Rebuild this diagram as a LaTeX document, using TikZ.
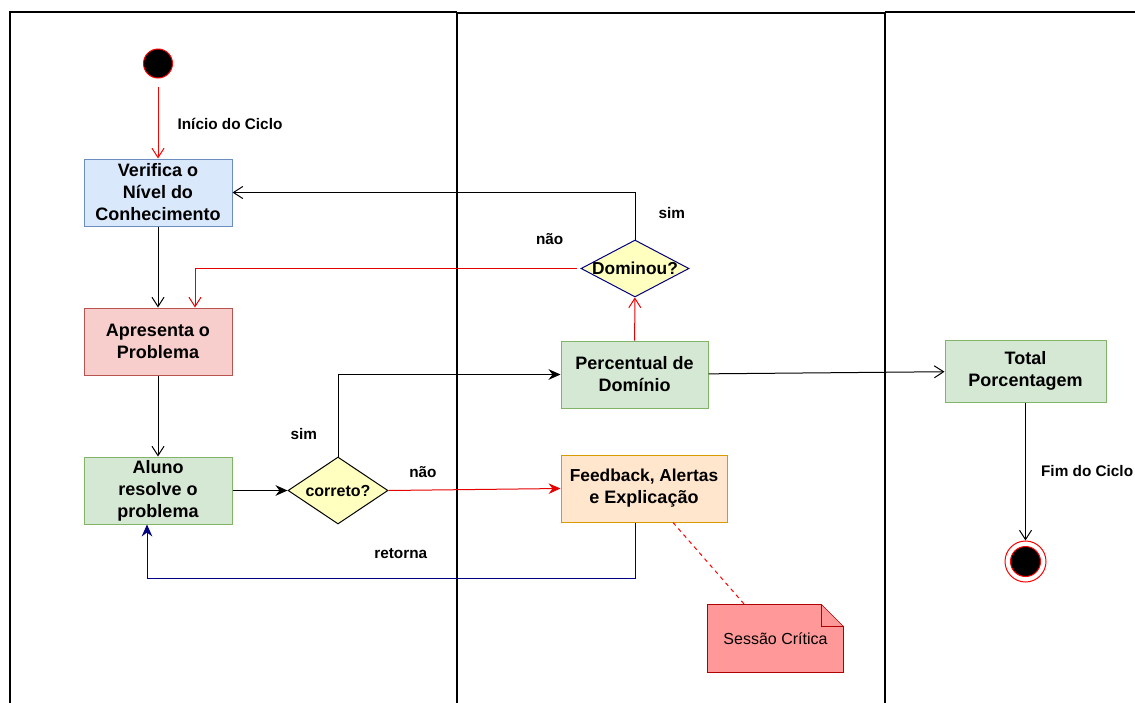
\documentclass[tikz,border=0pt]{standalone}
\usepackage{fontspec}
\setmainfont{Liberation Sans}
\usepackage{tikz}
\usetikzlibrary{arrows.meta,backgrounds,calc,positioning,shapes.geometric}
\definecolor{CheckBlue}{HTML}{DAE8FC}
\definecolor{CheckLine}{HTML}{6C8EBF}
\definecolor{ProblemRed}{HTML}{F8CECC}
\definecolor{ProblemLine}{HTML}{B85450}
\definecolor{SolveGreen}{HTML}{D5E8D4}
\definecolor{SolveLine}{HTML}{82B366}
\definecolor{HintOrange}{HTML}{FFE6CC}
\definecolor{HintLine}{HTML}{D79B00}
\definecolor{AskYellow}{HTML}{FFFFC0}
\definecolor{BackNavy}{HTML}{000080}
\definecolor{FlowRed}{HTML}{E60000}
\definecolor{NoteFill}{HTML}{FF9999}
\definecolor{NoteLine}{HTML}{B20000}

\begin{document}
\begin{tikzpicture}[
    x=0.75pt,y=-0.75pt,
    font=\fontsize{13.5}{16.5}\selectfont\bfseries,
    line width=0.75pt,
    >={Straight Barb[length=7pt,width=9pt]},
    flow/.style={->},
    hit/.style={-{Stealth[length=9pt,width=8pt,inset=3pt]}},
    act/.style={draw,minimum width=111pt,minimum height=50.25pt,
      align=center,inner sep=1pt},
    check/.style={act,draw=CheckLine,fill=CheckBlue},
    problem/.style={act,draw=ProblemLine,fill=ProblemRed},
    solve/.style={act,draw=SolveLine,fill=SolveGreen},
    hint/.style={act,draw=HintLine,fill=HintOrange},
    ask/.style={diamond,fill=AskYellow,inner sep=0pt},
    lane/.style={line width=1.5pt},
    tag/.style={font=\fontsize{11.5}{14}\selectfont\bfseries}
  ]
    \useasboundingbox (0,0) rectangle (1135,703);

    % Swim lanes.
    \draw[lane] (10,703) -- (10,12) -- (457,12);
    \draw[lane,line width=2pt] (457,703) -- (457,13) -- (885,13) -- (885,703);
    \draw[lane] (885,12) -- (1135,12);

    % Left lane: start and problem loop.
    \node[circle,fill=black,draw=red,minimum size=21.75pt,inner sep=0pt]
      (inicio) at (158,63.5) {};
    \node[check] (verifica) at (158,192.5)
      {Verifica o\\Nível do\\Conhecimento};
    \node[problem,below=60.75pt of verifica] (apresenta)
      {Apresenta o\\Problema};
    \node[solve,below=60.75pt of apresenta] (aluno)
      {Aluno\\resolve o\\problema};
    \node[ask,draw=black,minimum width=75pt,minimum height=50.25pt,
      right=41.25pt of aluno,label=center:{\fontsize{12}{14}\selectfont correto?}]
      (correto) {};

    % Middle lane.
    \node[solve,minimum width=110.25pt] (percentual) at (634.5,374.5)
      {Percentual de\\Domínio};
    \node[ask,draw=BackNavy,minimum width=81pt,minimum height=42.75pt,
      label=center:{\fontsize{13}{15}\selectfont Dominou?}]
      (dominou) at (635,268.5) {};
    \node[hint,minimum width=124.5pt] (feedback) at (644,488.5)
      {\fontsize{13}{16.5}\selectfont Feedback, Alertas\\e Explicação};
    \node[minimum width=101.25pt,minimum height=50.25pt,
      font=\fontsize{12}{14}\selectfont] (nota) at (775.5,638.5)
      {Sessão Crítica};

    % Right lane: end of cycle.
    \node[solve,minimum width=120.75pt,minimum height=46.5pt] (total)
      at (1025.5,371) {Total\\Porcentagem};
    \node[circle,draw=red,fill=white,minimum size=30.75pt,inner sep=0pt]
      (fim) at (1025.5,561.5) {};
    \node[circle,fill=black,draw=red,minimum size=22.5pt,inner sep=0pt]
      (fimcore) at (fim) {};

    \begin{scope}[on background layer]
      \draw[draw=NoteLine,fill=NoteFill]
        (nota.south west) |- ($(nota.north east)+(-22,0)$)
        -- ($(nota.north east)+(0,22)$) |- cycle;
      \draw[draw=NoteLine] ($(nota.north east)+(-22,0)$)
        |- ($(nota.north east)+(0,22)$);
    \end{scope}

    % Connectors.
    \draw[flow,draw=red,shorten <=6pt] (inicio) --
      node[tag,pos=0.57,right=11pt] {Início do Ciclo} (verifica);
    \draw[flow] (verifica) -- (apresenta);
    \draw[flow] (apresenta) -- (aluno);
    \draw[hit] (aluno) -- (correto);
    \draw[hit] (correto.north) |- node[tag,pos=0.14,left=12pt] {sim}
      (percentual.west);
    \draw[hit,draw=FlowRed] (correto.east) --
      node[tag,pos=0.2,above=6pt] {não} (feedback.west);
    \draw[flow,draw=FlowRed] (percentual) -- (dominou);
    \draw[flow] (dominou.north) |- node[tag,pos=0.28,right=14pt] {sim}
      (verifica.east);
    \draw[flow,draw=FlowRed,shorten <=3pt] (dominou.west) -|
      node[tag,pos=0.04,above=14pt] {não} ($(apresenta.north)+(37,0)$);
    \draw[flow] (percentual) -- (total);
    \draw[flow] (total) -- node[tag,right=8pt] {Fim do Ciclo} (fim);
    \draw[hit,draw=BackNavy] ($(feedback.south)+(-9,0)$)
      -- ++(0,56) -| node[tag,pos=0.24,above=11pt] {retorna}
      ($(aluno.south)+(-11,0)$);
    \draw[draw=red,dashed] ($(feedback.south)+(29,0)$)
      -- ($(nota.north west)+(37,0)$);
  \end{tikzpicture}
\end{document}
